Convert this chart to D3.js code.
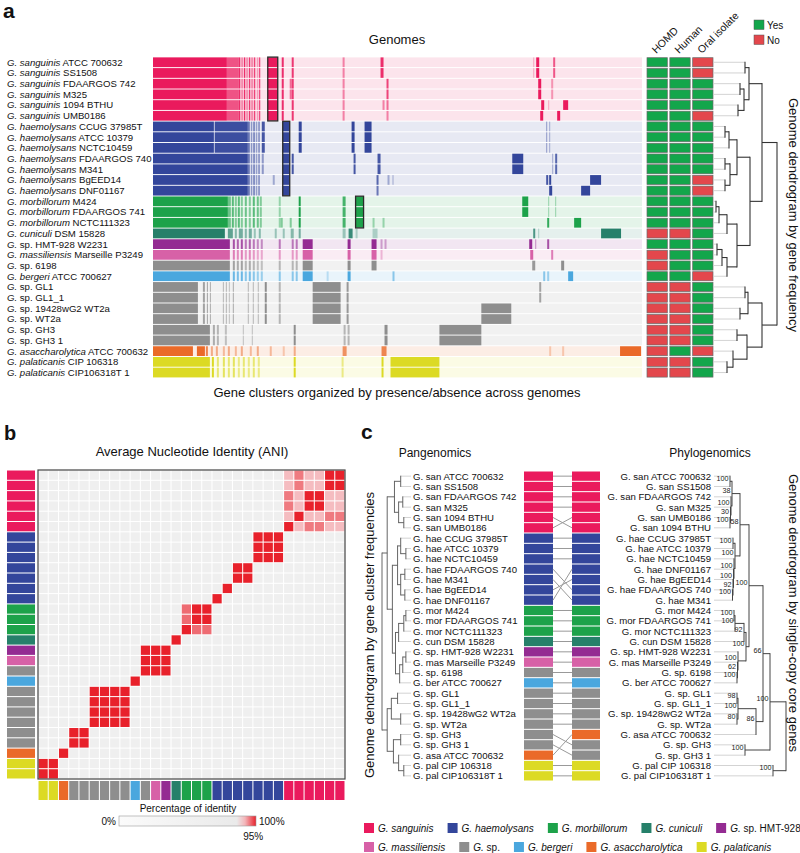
<!DOCTYPE html>
<html><head><meta charset="utf-8">
<script src="https://cdn.jsdelivr.net/npm/d3@7"></script>
<style>body{margin:0;background:#fff}</style>
</head><body>
<script>
// ---------------- DATA ----------------
const epithets = ["sanguinis","sanguinis","sanguinis","sanguinis","sanguinis","sanguinis",
 "haemolysans","haemolysans","haemolysans","haemolysans","haemolysans","haemolysans","haemolysans",
 "morbillorum","morbillorum","morbillorum","cuniculi","sp.","massiliensis","sp.","bergeri",
 "sp.","sp.","sp.","sp.","sp.","sp.","asaccharolytica","palaticanis","palaticanis"];
const strains = ["ATCC 700632","SS1508","FDAARGOS 742","M325","1094 BTHU","UMB0186",
 "CCUG 37985T","ATCC 10379","NCTC10459","FDAARGOS 740","M341","BgEED14","DNF01167",
 "M424","FDAARGOS 741","NCTC111323","DSM 15828","HMT-928 W2231","Marseille P3249","6198","ATCC 700627",
 "GL1","GL1_1","19428wG2 WT2a","WT2a","GH3","GH3 1","ATCC 700632","CIP 106318","CIP106318T 1"];
const groups = ["san","san","san","san","san","san","hae","hae","hae","hae","hae","hae","hae",
 "mor","mor","mor","cun","hmt","mas","sp","ber","sp","sp","sp","sp","sp","sp","asa","pal","pal"];
const shortEpithet = {sanguinis:"san",haemolysans:"hae",morbillorum:"mor",cuniculi:"cun","sp.":"sp.",
 massiliensis:"mas",bergeri:"ber",asaccharolytica:"asa",palaticanis:"pal"};
const groupColor = {san:"#EA1A5D",hae:"#33469B",mor:"#1DA24A",cun:"#26806A",hmt:"#942B92",
 mas:"#D761A7",sp:"#8E8E8E",ber:"#4AA7DE",asa:"#EA6A29",pal:"#DCDA24"};
const legendItems = [
 [["san","G. sanguinis",""],["hae","G. haemolysans",""],["mor","G. morbillorum",""],["cun","G. cuniculi",""],["hmt","G."," sp. HMT-928"]],
 [["mas","G. massiliensis",""],["sp","G."," sp."],["ber","G. bergeri",""],["asa","G. asaccharolytica",""],["pal","G. palaticanis",""]]];

// metadata (1 = Yes, 0 = No)
const metaCols = ["HOMD","Human","Oral isolate"];
const homd  = [1,1,1,1,1,1,1,1,1,1,1,1,1,1,1,1,0,1,0,0,1,0,0,0,0,0,0,0,0,0];
const human = [1,1,1,1,1,1,1,1,1,1,1,1,1,1,1,1,0,1,1,1,1,0,0,0,0,0,0,1,0,0];
const oral  = [0,0,1,1,1,0,1,1,1,1,1,0,0,1,1,1,1,1,1,1,0,1,1,1,1,1,1,0,1,1];

// gene clusters: [start rank, end rank, presence level]
const geneSanCore = [[0,74,1],[74,86,.72],[86,87.5,.9],[88.5,90,.55],[91,92.5,.9],[93.5,95,.5],[96,97.5,.85],[98.5,100,.55],[101,102.5,.8],[104,105,.45],[106,107.5,.75],[115,125,1],[129,131,.9],[139,141,.85],[190,192,.5]];
const geneSanA = [[228,231,.9],[381,382,.3],[384,387,1],[401,403,.7]];
const geneSanB = [[137,139,.6],[234,236,.8],[386,389,1],[399,401,.4]];
const geneSanC = [[230,232,.5],[234,236,.6],[389,392,1],[396,397,.3],[411,416,1]];
const geneSanD = [[234,236,.5],[388,391,1],[405,408,1]];
const geneHaeCore = [[95,97,.7],[98,99.5,.5],[100.5,102,.7],[103,104.5,.45],[105.5,107,.6],[130,137,1]];
const geneHaeA = [[0,61,1],[61.8,95,.95],[109,112,.9],[146,149,1],[199,202,1],[212,219,1],[394,395,.5],[397,398,.4]];
const geneHaeB = [[0,95,1],[109,111,.5],[139,141,.9],[201,203,.9],[225,228,.9],[360,371,1],[400,401,.4],[403,405,.8]];
const geneHaeC = [[0,95,1],[120,122,.4],[224,226,.8],[235,237,.4],[240,241,.4],[394,396,.9],[397,399,1],[438,449,1]];
const geneHaeD = [[0,95,1],[224,226,.7],[397,400,1],[429,438,1]];
const geneMorCore = [[0,75,1],[75,78,.6],[79,81,.7],[82,84,.5],[85,87,.7],[88,90,.5],[92,94,.6],[96,98,.5],[100,102,.7],[104,106,.6],[107,109,.5],[126,128,.4],[146,148,1],[190,193,.8],[203,211,1]];
const geneMorA = [[370,376,1],[396,397,.4],[403,404,.4]];
const geneMorB = [[128,130,.5],[137,139,.5],[220,222,.4],[230,232,.4],[395,397,.9],[422,429,1]];
const geneCun = [[0,72,1],[75,80,.7],[82,84,.5],[86,90,.6],[92,94,.5],[96,99,.6],[101,103,.4],[106,108,.5],[122,124,.4],[130,132,.4],[138,141,.5],[146,148,.6],[190,193,.4],[196,200,.9],[203,205,.3],[220,225,.3],[381,383,.8],[386,387,.3],[449,469,1]];
const geneHmtCore = [[0,77,1],[80,82,.8],[84,86,.7],[88,90,.8],[92,94,.6],[96,98,.7],[100,102,.6],[104,106,.5],[108,110,.5],[126,128,.6],[139,141,.6],[143,145,.6],[150,160,1],[195,198,1]];
const geneHmt = [[219,224,1],[228,230,.4],[232,234,.4],[377,380,1],[383,384,.5],[395,397,.8]];
const geneMas = [[219,224,1],[228,230,.4],[378,381,1],[399,401,.8]];
const gene6198 = [[219,224,1],[380,383,.9],[409,412,1]];
const geneBer = [[174,176,.3],[240,242,.6],[391,393,.6],[395,397,.5],[416,421,1]];
const geneGLCore = [[0,45,1],[50,52,.8],[54,55,.8],[57,58,.7],[70,71,.6],[73,74,.6],[76,77,.5],[80,81,.7],[95,96,.6],[100,101,.6],[105,106,.6],[112,114,1],[126,128,.6],[160,188,1],[194,196,.9]];
const geneGLa = [[387,389,.8]];
const geneGLb = [[329,359,1]];
const geneGH = [[0,57,1],[60,62,.7],[64,66,.6],[72,74,.5],[90,91,.5],[99,100,.5],[141,143,1],[191,193,.6],[195,197,.6],[232,235,1],[287,329,1]];
const geneAsa = [[0,40,1],[44,52,1],[53,55,.8],[58,60,.5],[63,65,.5],[70,72,.4],[75,77,.5],[82,84,.4],[88,90,.5],[97,99,.4],[104,106,.5],[117,119,.4],[130,132,.3],[141,143,.5],[190,194,.7],[229,234,.8],[397,399,.3],[410,412,.3],[468,489,1]];
const genePal = [[0,57,1],[59,61,1],[64,66,.6],[70,72,.7],[75,77,.6],[80,82,.7],[85,87,.5],[90,92,.6],[95,97,.5],[100,102,.6],[105,107,.5],[141,143,1],[189,191,.5],[229,231,1],[238,287,1]];
const clusterRows = [
 geneSanCore.concat(geneSanA), geneSanCore.concat(geneSanA), geneSanCore.concat(geneSanB), geneSanCore.concat(geneSanB),
 geneSanCore.concat(geneSanC), geneSanCore.concat(geneSanD),
 geneHaeCore.concat(geneHaeA), geneHaeCore.concat(geneHaeA), geneHaeCore.concat(geneHaeA),
 geneHaeCore.concat(geneHaeB), geneHaeCore.concat(geneHaeB), geneHaeCore.concat(geneHaeC), geneHaeCore.concat(geneHaeD),
 geneMorCore.concat(geneMorA), geneMorCore.concat(geneMorA), geneMorCore.concat(geneMorB),
 geneCun, geneHmtCore.concat(geneHmt), geneHmtCore.concat(geneMas), geneHmtCore.concat(gene6198), geneHmtCore.concat(geneBer),
 geneGLCore.concat(geneGLa), geneGLCore.concat(geneGLa), geneGLCore.concat(geneGLb), geneGLCore.concat(geneGLb),
 geneGH, geneGH, geneAsa, genePal, genePal];
const coreBoxes = [{rows:[0,5],span:[115,125]},{rows:[6,12],span:[130,137]},{rows:[13,15],span:[203,211]}];

// trees: n(height, childA, childB, support)
function n(h,a,b,s){return {h:h,c:[a,b],s:s};}
const treeGeneFreq = n(64,
  n(49, n(36, n(32,0,1), n(31, n(27,2,3), n(25,4,5))),
        n(37, n(24, n(16, n(12,6,7), 8), n(17, n(12,9,10), n(12,11,12))),
              n(24, n(14, n(6, n(3,13,14), 15), 16), n(14, n(9, n(4,17,18), 19), 20)))),
  n(49, n(35, n(32,21,22), n(27,23,24)), n(34, n(24,25,26), n(20,27, n(14,28,29)))));
const treePan = n(26,
  n(21, n(14, n(8,0,1), n(10, n(6,2,3), n(5,4,5))),
        n(16, n(11, n(8,6, n(3,7,8)), n(8, n(4,9,10), n(4,11,12))),
              n(13, n(10, n(5, n(3,13,14), 15), 16), n(9, n(6, n(3,17,18), 19), 20)))),
  n(21, n(17, n(11,21,22), n(8,23,24)), n(15, n(8,25,26), n(10,27, n(5,28,29)))));
const phyloOrder = [0,1,2,3,5,4,6,7,8,12,11,9,10,13,14,15,16,17,18,19,20,21,22,23,24,27,25,26,28,29];
const treePhylo = n(73,
  n(57,
    n(50,
      n(36,
        n(27,
          n(19, n(17,0,1,100), n(18, 2, n(17.5, 3, n(17,4,5,100), 30), 100), 38),
          n(22, n(20,6,7,100), n(21, 8, n(20.5, 9, n(20, 10, n(19.5,11,12,100), 92), 100), 100), 100),
          58),
        n(33, n(31, n(22, n(21,13,14,100), 15, 100), 16, 92), n(25, 17, n(24.5, 18, n(24,19,20,100), 62), 100), 100),
        100),
      n(43, n(25, n(24,21,22,98), n(24,23,24,80), 100), 25, 86),
      66),
    n(32,26,27,100),
    100),
  n(60,28,29,100));

// ANI (%)
const aniSanguinis = [[100,99.8,96.3,96.3,97.6,96.3],[99.8,100,96.3,96.3,97.6,96.3],[96.3,96.3,100,99.8,96.3,97.6],
 [96.3,96.3,99.8,100,96.3,97.6],[97.6,97.6,96.3,96.3,100,96.3],[96.3,96.3,97.6,97.6,96.3,100]];
const aniMorbillorum = [[100,99.7,97.9],[99.7,100,97.9],[97.9,97.9,100]];
const aniBlocks = [[6,8],[9,10],[11,11],[12,12],[16,16],[17,19],[20,20],[21,24],[25,26],[27,27],[28,29]];
const aniWithinBlock = 99.6, aniBetween = 80;

// ---------------- DRAW ----------------
const FONT = '"Liberation Sans", Arial, Helvetica, sans-serif';
const svg = d3.select("body").append("svg").attr("width",800).attr("height",853)
  .style("font-family",FONT).style("background","#fff");
const light = g => d3.interpolateRgb(groupColor[g],"#ffffff")(0.88);
const N = 30;

function txt(x,y,s,size,opt){ opt=opt||{};
  const t = svg.append("text").attr("x",x).attr("y",y).attr("font-size",size).attr("fill",opt.fill||"#111")
   .attr("text-anchor",opt.anchor||"start").text(s);
  if(opt.weight) t.attr("font-weight",opt.weight);
  if(opt.transform) t.attr("transform",opt.transform);
  return t; }

// panel letters
txt(3,18,"a",21,{weight:"bold"});
txt(4,440,"b",20,{weight:"bold"});
txt(361,439,"c",21,{weight:"bold"});

// ===== Panel a =====
const xG = d3.scaleLinear().domain([0,490]).range([153,642]);
const yA = d3.scaleBand().domain(d3.range(N)).range([57.4,377.4]).paddingInner(0.09);
const bwA = yA.bandwidth();
txt(397,44,"Genomes",13,{anchor:"middle"});
txt(397,397,"Gene clusters organized by presence/absence across genomes",13,{anchor:"middle"});
const gH = svg.append("g");
d3.range(N).forEach(i=>{
  const col = groupColor[groups[i]];
  gH.append("rect").attr("x",xG(0)).attr("y",yA(i)).attr("width",xG(490)-xG(0)).attr("height",bwA).attr("fill",light(groups[i]));
  clusterRows[i].forEach(s=>{
    gH.append("rect").attr("x",xG(s[0])).attr("y",yA(i)).attr("width",xG(s[1])-xG(s[0])).attr("height",bwA)
      .attr("fill",col).attr("fill-opacity",s[2]);
  });
});
coreBoxes.forEach(b=>{
  gH.append("rect").attr("x",xG(b.span[0])).attr("y",yA(b.rows[0])-0.3)
   .attr("width",xG(b.span[1])-xG(b.span[0])).attr("height",yA(b.rows[1])+bwA-yA(b.rows[0])+0.6)
   .attr("fill","none").attr("stroke","#2a2a2a").attr("stroke-width",1.3);
});
// labels
d3.range(N).forEach(i=>{
  const t = svg.append("text").attr("x",7).attr("y",yA(i)+bwA/2+3.4).attr("font-size",9.6).attr("fill","#111");
  if(epithets[i]==="sp."){
    t.append("tspan").attr("font-style","italic").text("G.");
    t.append("tspan").text(" sp. "+strains[i]);
  } else {
    t.append("tspan").attr("font-style","italic").text("G. "+epithets[i]);
    t.append("tspan").text(" "+strains[i]);
  }
});
// metadata table
const xM = d3.scaleBand().domain(metaCols).range([647,713]).paddingInner(0.11);
const metaVals = [homd,human,oral];
const YES="#13A64B", NO="#E3474C";
metaCols.forEach((c,k)=>{
  d3.range(N).forEach(i=>{
    svg.append("rect").attr("x",xM(c)).attr("y",yA(i)+0.3).attr("width",xM.bandwidth()).attr("height",bwA-0.6)
     .attr("fill",metaVals[k][i]?YES:NO).attr("stroke","#6a6a6a").attr("stroke-width",0.7);
  });
  const cx = xM(c)+xM.bandwidth()/2-1;
  txt(cx,54,c,10.5,{transform:`rotate(-45 ${cx} 54)`});
});
svg.append("rect").attr("x",754).attr("y",20).attr("width",10).attr("height",9.5).attr("fill",YES).attr("stroke","#555").attr("stroke-width",0.5);
txt(767,28.5,"Yes",10);
svg.append("rect").attr("x",754).attr("y",35).attr("width",10).attr("height",9.5).attr("fill",NO).attr("stroke","#555").attr("stroke-width",0.5);
txt(767,43.5,"No",10);

// tree helpers
function lay(node,yOf){
  if(typeof node==="number") return {leaf:true,id:node,y:yOf(node),h:0};
  const kids = node.c.map(k=>lay(k,yOf));
  return {leaf:false,h:node.h,s:node.s,kids:kids,y:(kids[0].y+kids[kids.length-1].y)/2};
}
function drawTree(g,root,xOf,leafX,opt){
  const stroke=opt.stroke||"#333", leafStroke=opt.leafStroke||"#c8c8c8", sw=opt.sw||1;
  (function walk(nd){
    if(nd.leaf) return;
    const x = xOf(nd.h);
    nd.kids.forEach(k=>{
      const x0 = k.leaf? leafX : xOf(k.h);
      g.append("line").attr("x1",x0).attr("x2",x).attr("y1",k.y).attr("y2",k.y)
       .attr("stroke",k.leaf?leafStroke:stroke).attr("stroke-width",k.leaf?0.8:sw);
      walk(k);
    });
    g.append("line").attr("x1",x).attr("x2",x).attr("y1",nd.kids[0].y-sw/2).attr("y2",nd.kids[nd.kids.length-1].y+sw/2)
      .attr("stroke",stroke).attr("stroke-width",sw);
    if(opt.support && nd.s!=null){
      g.append("text").attr("x",x-1.5).attr("y",nd.y-0.5).attr("text-anchor","end").attr("font-size",7.2)
       .attr("fill","#222").text(nd.s);
    }
  })(root);
}
const xTa = d3.scaleLinear().domain([0,64]).range([713,777]);
drawTree(svg.append("g"), lay(treeGeneFreq,i=>yA(i)+bwA/2), xTa, 714, {stroke:"#333",sw:1.1});
txt(789,215,"Genome dendrogram by gene frequency",13,{anchor:"middle",transform:"rotate(90 789 215)"});

// ===== Panel b =====
txt(192,456,"Average Nucleotide Identity (ANI)",13,{anchor:"middle"});
const xB = d3.scaleBand().domain(d3.range(N)).range([38,345]).paddingInner(0.1).paddingOuter(0.05);
const yB = d3.scaleBand().domain(d3.range(N)).range([470,779]).paddingInner(0.1).paddingOuter(0.05);
function ani(i,j){
  if(i<6 && j<6) return aniSanguinis[i][j];
  if(i>=13&&i<=15&&j>=13&&j<=15) return aniMorbillorum[i-13][j-13];
  for(const b of aniBlocks){ if(i>=b[0]&&i<=b[1]&&j>=b[0]&&j<=b[1]) return aniWithinBlock; }
  return aniBetween;
}
const aniColor = d3.scaleLinear().domain([96.3,97.6,99.5]).range(["#F5BCC0","#EF7A80","#E8212B"]).clamp(true);
d3.range(N).forEach(i=>{
  d3.range(N).forEach(j=>{
    const g = N-1-j; const v = ani(i,g);
    svg.append("rect").attr("x",xB(j)).attr("y",yB(i)).attr("width",xB.bandwidth()).attr("height",yB.bandwidth())
      .attr("fill", v<95 ? "#EFEFEF" : aniColor(v));
  });
  svg.append("rect").attr("x",7).attr("y",yB(i)).attr("width",28).attr("height",yB.bandwidth()).attr("fill",groupColor[groups[i]]);
});
svg.append("rect").attr("x",38).attr("y",470).attr("width",307).attr("height",309).attr("fill","none").attr("stroke","#444").attr("stroke-width",1.2);
d3.range(N).forEach(j=>{
  svg.append("rect").attr("x",xB(j)).attr("y",781).attr("width",xB.bandwidth()).attr("height",19)
    .attr("fill",groupColor[groups[N-1-j]]);
});
// colour bar
const defs = svg.append("defs");
const lg = defs.append("linearGradient").attr("id","aniGrad");
[[0,"#FBFBFB"],[0.86,"#EAEAEA"],[0.92,"#F3B5B9"],[1,"#E8212B"]].forEach(s=>lg.append("stop").attr("offset",s[0]).attr("stop-color",s[1]));
const xC = d3.scaleLinear().domain([0,100]).range([119,256]);
txt(188,812,"Percentage of identity",10,{anchor:"middle"});
svg.append("rect").attr("x",xC(0)).attr("y",816).attr("width",xC(100)-xC(0)).attr("height",10).attr("fill","url(#aniGrad)").attr("stroke","#999").attr("stroke-width",0.6);
txt(xC(0)-3,825,"0%",10,{anchor:"end"});
txt(xC(100)+3,825,"100%",10);
txt(xC(95)+4,840,"95%",10,{anchor:"middle"});

// ===== Panel c =====
txt(435,457,"Pangenomics",12,{anchor:"middle"});
txt(710,457,"Phylogenomics",12,{anchor:"middle"});
const yC = d3.scaleBand().domain(d3.range(N)).range([471.5,780.5]).paddingInner(0.1);
const bwC = yC.bandwidth();
const shortLabel = g => "G. "+shortEpithet[epithets[g]]+" "+strains[g];
d3.range(N).forEach(i=>{
  txt(413,yC(i)+bwC/2+3.4,shortLabel(i),9.6);
  svg.append("rect").attr("x",524).attr("y",yC(i)).attr("width",29).attr("height",bwC).attr("fill",groupColor[groups[i]]);
  const g = phyloOrder[i];
  svg.append("rect").attr("x",572).attr("y",yC(i)).attr("width",28).attr("height",bwC).attr("fill",groupColor[groups[g]]);
  txt(711,yC(i)+bwC/2+3.4,shortLabel(g),9.6,{anchor:"end"});
});
d3.range(N).forEach(g=>{
  const j = phyloOrder.indexOf(g);
  svg.append("line").attr("x1",553).attr("x2",572).attr("y1",yC(g)+bwC/2).attr("y2",yC(j)+bwC/2)
    .attr("stroke","#999").attr("stroke-width",1);
});
const xTp = d3.scaleLinear().domain([0,26]).range([409,382]);
drawTree(svg.append("g"), lay(treePan,i=>yC(i)+bwC/2), xTp, 411, {stroke:"#555",sw:0.9});
txt(374,635,"Genome dendrogram by gene cluster frequencies",13,{anchor:"middle",transform:"rotate(-90 374 635)"});
const xTr = d3.scaleLinear().domain([0,73]).range([713,786]);
drawTree(svg.append("g"), lay(treePhylo,i=>yC(i)+bwC/2), xTr, 714, {stroke:"#444",sw:1,support:true});
txt(789,613,"Genome dendrogram by single-copy core genes",13,{anchor:"middle",transform:"rotate(90 789 613)"});

// legend
legendItems.forEach((row,r)=>{
  let x = 364; const y = 823 + r*19;
  row.forEach(it=>{
    svg.append("rect").attr("x",x).attr("y",y).attr("width",10).attr("height",10).attr("fill",groupColor[it[0]]);
    const t = svg.append("text").attr("x",x+14).attr("y",y+9).attr("font-size",10).attr("fill","#111");
    t.append("tspan").attr("font-style","italic").text(it[1]);
    if(it[2]) t.append("tspan").text(it[2]);
    x += 14 + t.node().getComputedTextLength() + 14;
  });
});
</script>
</body></html>
